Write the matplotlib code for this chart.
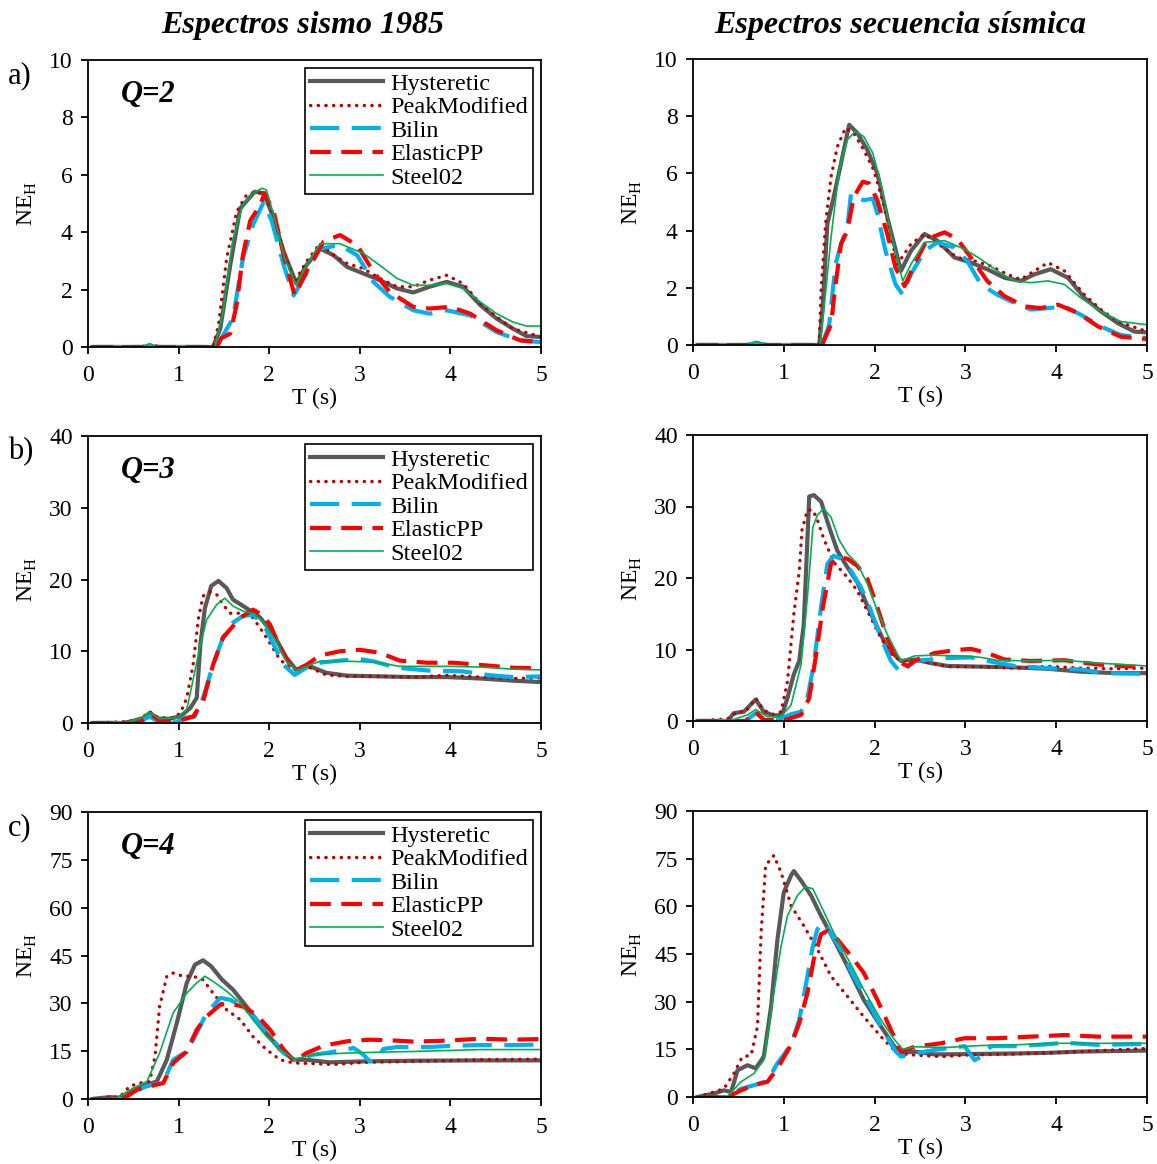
import matplotlib
matplotlib.use('Agg')
import matplotlib.pyplot as plt

plt.rcParams['font.family'] = 'Liberation Serif'
plt.rcParams['mathtext.fontset'] = 'custom'
plt.rcParams['mathtext.rm'] = 'Liberation Serif'

# %% data (T in s, NE_H)
# Q=2, sismo 1985
q2a_hys_t = [0.05, 1.38, 1.46, 1.57, 1.68, 1.84, 1.94, 2.05, 2.16, 2.30, 2.41, 2.56, 2.71, 2.86, 3.04, 3.22, 3.41, 3.59, 3.77, 3.96, 4.14, 4.33, 4.51, 4.69, 4.84, 5.0]
q2a_hys = [0, 0, 0.64, 2.85, 4.83, 5.41, 5.36, 4.48, 3.32, 2.21, 2.85, 3.43, 3.2, 2.79, 2.56, 2.33, 2.04, 1.90, 2.10, 2.27, 2.10, 1.46, 0.99, 0.64, 0.38, 0.35]
q2a_pm_t = [0.05, 1.38, 1.44, 1.53, 1.64, 1.75, 1.86, 1.95, 2.05, 2.16, 2.28, 2.41, 2.56, 2.71, 2.86, 3.04, 3.22, 3.41, 3.59, 3.77, 3.96, 4.14, 4.33, 4.51, 4.69, 5.0]
q2a_pm = [0, 0, 0.76, 3.08, 4.71, 5.3, 5.41, 5.3, 4.6, 3.32, 2.27, 2.97, 3.6, 3.2, 2.91, 2.73, 2.39, 2.1, 2.1, 2.33, 2.5, 2.21, 1.51, 1.05, 0.64, 0.35]
q2a_bil_t = [0.05, 0.6, 0.68, 0.76, 1.42, 1.47, 1.60, 1.71, 1.82, 1.94, 2.03, 2.16, 2.27, 2.38, 2.56, 2.78, 2.97, 3.15, 3.33, 3.59, 3.77, 3.96, 4.22, 4.51, 4.77, 5.0]
q2a_bil = [0, 0, 0.05, 0, 0, 0.3, 1.0, 3.1, 4.25, 5.06, 4.37, 2.85, 1.8, 2.39, 3.43, 3.55, 3.2, 2.27, 1.75, 1.28, 1.16, 1.28, 1.1, 0.52, 0.23, 0.17]
q2a_epp_t = [0.05, 0.6, 0.69, 0.78, 1.42, 1.47, 1.57, 1.64, 1.71, 1.79, 1.90, 1.95, 2.05, 2.16, 2.28, 2.41, 2.60, 2.78, 2.97, 3.15, 3.33, 3.59, 3.77, 4.0, 4.22, 4.51, 4.77, 5.0]
q2a_epp = [0, 0, 0.06, 0, 0, 0.3, 0.47, 1.46, 3.2, 4.4, 4.95, 5.36, 4.71, 3.2, 1.8, 2.62, 3.67, 3.9, 3.55, 2.62, 1.92, 1.4, 1.34, 1.4, 1.16, 0.58, 0.23, 0.17]
q2a_stl_t = [0.05, 0.6, 0.68, 0.76, 1.40, 1.49, 1.60, 1.71, 1.82, 1.92, 1.97, 2.06, 2.17, 2.30, 2.41, 2.56, 2.78, 3.04, 3.22, 3.41, 3.59, 3.77, 3.96, 4.14, 4.33, 4.51, 4.69, 4.84, 5.0]
q2a_stl = [0, 0, 0.12, 0, 0, 1.22, 3.78, 4.95, 5.36, 5.53, 5.47, 4.48, 3.08, 2.15, 2.85, 3.6, 3.6, 3.26, 2.85, 2.39, 2.15, 2.15, 2.21, 2.04, 1.57, 1.16, 0.87, 0.73, 0.73]

# Q=2, secuencia sismica
q2s_hys_t = [0.05, 0.6, 0.7, 0.8, 1.39, 1.43, 1.48, 1.55, 1.63, 1.72, 1.81, 1.92, 2.03, 2.14, 2.29, 2.40, 2.55, 2.69, 2.88, 3.06, 3.24, 3.43, 3.61, 3.76, 3.94, 4.13, 4.31, 4.49, 4.68, 4.86, 5.0]
q2s_hys = [0, 0, 0.05, 0, 0, 1.41, 4.24, 5.18, 6.35, 7.7, 7.41, 6.82, 6.0, 4.47, 2.59, 3.29, 3.88, 3.65, 3.06, 2.88, 2.65, 2.35, 2.24, 2.47, 2.65, 2.35, 1.65, 1.18, 0.76, 0.47, 0.44]
q2s_pm_t = [0.05, 1.39, 1.41, 1.46, 1.52, 1.59, 1.68, 1.77, 1.88, 1.99, 2.11, 2.25, 2.40, 2.55, 2.73, 2.91, 3.10, 3.28, 3.46, 3.61, 3.76, 3.91, 4.09, 4.31, 4.49, 4.68, 5.0]
q2s_pm = [0, 0, 1.88, 4.24, 5.88, 6.94, 7.59, 7.41, 6.82, 6.12, 4.82, 2.82, 3.53, 3.88, 3.47, 3.06, 2.94, 2.76, 2.47, 2.29, 2.59, 2.88, 2.59, 1.76, 1.24, 0.82, 0.47]
q2s_bil_t = [0.05, 0.6, 0.70, 0.8, 1.42, 1.50, 1.57, 1.63, 1.70, 1.74, 1.81, 1.88, 1.98, 2.03, 2.12, 2.23, 2.31, 2.40, 2.55, 2.69, 2.88, 3.02, 3.17, 3.35, 3.54, 3.72, 3.91, 4.09, 4.27, 4.49, 4.71, 5.0]
q2s_bil = [0, 0, 0.08, 0, 0, 0.71, 2.82, 3.53, 4.12, 5.29, 5.18, 5.06, 5.12, 4.59, 3.29, 2.12, 1.76, 2.47, 3.29, 3.59, 3.41, 2.94, 2.12, 1.76, 1.47, 1.24, 1.29, 1.35, 1.06, 0.65, 0.35, 0.24]
q2s_epp_t = [0.05, 1.42, 1.52, 1.57, 1.63, 1.70, 1.77, 1.87, 1.94, 2.03, 2.14, 2.23, 2.33, 2.44, 2.58, 2.77, 2.91, 3.06, 3.24, 3.43, 3.65, 3.83, 4.02, 4.24, 4.46, 4.71, 5.0]
q2s_epp = [0, 0, 0.71, 2.12, 3.53, 4.0, 5.18, 5.71, 5.65, 5.06, 3.88, 2.71, 2.06, 2.82, 3.71, 3.94, 3.71, 3.06, 2.24, 1.71, 1.35, 1.29, 1.41, 1.12, 0.65, 0.29, 0.21]
q2s_stl_t = [0.05, 0.6, 0.70, 0.8, 1.40, 1.44, 1.52, 1.61, 1.70, 1.79, 1.88, 1.98, 2.07, 2.18, 2.31, 2.40, 2.55, 2.77, 2.99, 3.17, 3.35, 3.54, 3.72, 3.91, 4.09, 4.27, 4.49, 4.71, 5.0]
q2s_stl = [0, 0, 0.12, 0, 0, 1.18, 3.76, 6.12, 7.18, 7.47, 7.29, 6.71, 5.65, 3.88, 2.24, 2.82, 3.59, 3.65, 3.35, 3.0, 2.59, 2.24, 2.18, 2.24, 2.12, 1.65, 1.18, 0.82, 0.71]

# Q=3, sismo 1985
q3a_hys_t = [0.05, 0.39, 0.5, 0.61, 0.68, 0.78, 0.9, 1.02, 1.13, 1.2, 1.24, 1.29, 1.36, 1.44, 1.53, 1.60, 1.75, 1.90, 2.05, 2.19, 2.30, 2.45, 2.63, 2.86, 3.22, 3.59, 3.96, 4.33, 4.69, 5.0]
q3a_hys = [0, 0, 0.3, 0.7, 1.4, 0.6, 0.6, 0.93, 2.1, 3.5, 10.9, 16.0, 19.1, 19.8, 18.8, 17.2, 16.0, 14.7, 12.3, 9.1, 7.4, 7.9, 7.0, 6.6, 6.5, 6.4, 6.4, 6.2, 5.9, 5.7]
q3a_pm_t = [0.05, 0.43, 0.57, 0.68, 0.78, 0.94, 1.02, 1.09, 1.16, 1.22, 1.27, 1.35, 1.42, 1.49, 1.57, 1.71, 1.82, 1.97, 2.12, 2.27, 2.45, 2.63, 2.86, 3.22, 3.59, 3.96, 4.33, 4.69, 5.0]
q3a_pm = [0, 0.2, 0.45, 1.6, 0.7, 0.7, 1.4, 3.5, 8.1, 14.7, 17.7, 18.3, 17.9, 16.5, 15.3, 15.3, 14.7, 11.9, 8.8, 7.4, 7.7, 6.7, 6.5, 6.5, 6.4, 6.65, 6.4, 6.2, 6.3]
q3a_bil_t = [0.05, 0.55, 0.68, 0.78, 0.98, 1.05, 1.18, 1.27, 1.38, 1.49, 1.60, 1.71, 1.82, 1.94, 2.05, 2.16, 2.28, 2.41, 2.56, 2.78, 3.0, 3.15, 3.41, 3.77, 4.14, 4.44, 4.69, 5.0]
q3a_bil = [0, 0, 0.93, 0.1, 0.1, 0.7, 0.9, 3.5, 8.1, 11.9, 14.0, 14.9, 15.1, 13.7, 10.9, 8.1, 6.7, 7.7, 8.4, 8.7, 8.9, 8.6, 7.7, 7.3, 7.2, 6.65, 6.4, 6.5]
q3a_epp_t = [0.05, 0.55, 0.65, 0.70, 0.79, 1.0, 1.16, 1.27, 1.38, 1.49, 1.60, 1.71, 1.82, 1.92, 2.01, 2.12, 2.27, 2.41, 2.56, 2.78, 3.0, 3.22, 3.44, 3.74, 4.03, 4.33, 4.69, 5.0]
q3a_epp = [0, 0, 0.7, 1.2, 0.3, 0.3, 0.9, 3.0, 8.1, 11.9, 13.5, 14.9, 15.8, 15.1, 13.7, 10.5, 7.2, 8.1, 9.4, 10.0, 10.2, 9.8, 8.7, 8.4, 8.4, 8.1, 7.7, 7.6]
q3a_stl_t = [0.05, 0.43, 0.57, 0.68, 0.79, 0.98, 1.09, 1.18, 1.24, 1.31, 1.42, 1.51, 1.60, 1.71, 1.82, 1.94, 2.05, 2.19, 2.30, 2.45, 2.56, 2.86, 3.15, 3.44, 3.96, 4.33, 4.69, 5.0]
q3a_stl = [0, 0.1, 0.6, 1.5, 0.6, 0.7, 1.9, 7.2, 10.9, 14.4, 16.5, 17.4, 16.3, 15.6, 15.3, 14.0, 11.9, 8.6, 7.3, 8.1, 8.6, 8.6, 8.5, 7.9, 7.9, 7.8, 7.5, 7.4]

# Q=3, secuencia sismica
q3s_hys_t = [0.05, 0.38, 0.45, 0.56, 0.69, 0.78, 0.89, 0.98, 1.04, 1.11, 1.17, 1.22, 1.28, 1.33, 1.41, 1.50, 1.59, 1.70, 1.81, 1.92, 2.03, 2.14, 2.29, 2.44, 2.62, 2.80, 3.17, 3.54, 3.91, 4.27, 4.64, 5.0]
q3s_hys = [0, 0, 1.1, 1.3, 3.0, 1.3, 0.75, 0.85, 3.2, 6.5, 8.4, 13.5, 31.4, 31.6, 30.7, 27.1, 23.8, 21.5, 19.4, 16.1, 13.1, 10.2, 8.4, 8.6, 8.1, 7.7, 7.6, 7.5, 7.3, 6.9, 6.7, 6.7]
q3s_pm_t = [0.05, 0.38, 0.49, 0.58, 0.69, 0.78, 0.89, 0.97, 1.04, 1.11, 1.17, 1.20, 1.26, 1.32, 1.37, 1.44, 1.55, 1.70, 1.81, 1.92, 2.07, 2.22, 2.36, 2.51, 2.80, 3.17, 3.54, 3.91, 4.27, 4.64, 5.0]
q3s_pm = [0, 0.3, 1.3, 1.3, 3.2, 1.5, 0.9, 1.3, 5.5, 14.9, 21.0, 26.7, 29.5, 29.5, 28.1, 25.5, 22.2, 20.1, 18.2, 15.4, 11.6, 8.8, 8.4, 8.4, 7.6, 7.6, 7.4, 7.65, 7.4, 7.3, 7.4]
q3s_bil_t = [0.05, 0.58, 0.69, 0.80, 0.96, 1.08, 1.19, 1.26, 1.33, 1.41, 1.48, 1.55, 1.63, 1.74, 1.85, 1.96, 2.07, 2.18, 2.29, 2.44, 2.62, 2.80, 3.06, 3.24, 3.54, 3.91, 4.27, 4.53, 5.0]
q3s_bil = [0, 0, 1.1, 0.1, 0.3, 0.95, 1.3, 3.2, 7.9, 15.9, 22.0, 23.1, 22.7, 21.0, 18.7, 15.4, 11.6, 8.4, 6.7, 8.4, 8.6, 8.8, 8.9, 8.4, 7.7, 7.4, 7.2, 6.7, 6.6]
q3s_epp_t = [0.05, 0.58, 0.69, 0.78, 1.0, 1.19, 1.28, 1.35, 1.43, 1.52, 1.61, 1.70, 1.81, 1.92, 2.03, 2.14, 2.25, 2.36, 2.47, 2.66, 2.88, 3.06, 3.24, 3.43, 3.72, 4.09, 4.46, 5.0]
q3s_epp = [0, 0, 1.3, 0.15, 0.1, 0.85, 3.2, 8.8, 15.9, 22.0, 22.9, 22.7, 21.7, 19.9, 15.9, 11.6, 8.4, 7.7, 8.6, 9.5, 9.9, 10.1, 9.5, 8.6, 8.4, 8.5, 7.9, 7.5]
q3s_stl_t = [0.05, 0.42, 0.60, 0.69, 0.82, 0.97, 1.08, 1.19, 1.26, 1.32, 1.37, 1.44, 1.52, 1.61, 1.70, 1.81, 1.92, 2.03, 2.14, 2.29, 2.44, 2.62, 2.99, 3.17, 3.35, 3.72, 4.09, 4.46, 5.0]
q3s_stl = [0, 0.1, 0.85, 1.6, 0.6, 0.6, 2.25, 7.9, 17.3, 27.1, 28.8, 29.7, 28.5, 25.3, 23.4, 22.0, 19.2, 15.4, 12.1, 8.4, 9.1, 9.2, 9.1, 8.9, 8.5, 8.4, 8.5, 8.1, 7.7]

# Q=4, sismo 1985
q4a_hys_t = [0.05, 0.24, 0.39, 0.5, 0.65, 0.76, 0.87, 0.98, 1.09, 1.18, 1.27, 1.36, 1.48, 1.60, 1.75, 1.94, 2.12, 2.27, 2.41, 2.67, 3.04, 3.59, 4.33, 5.0]
q4a_hys = [0, 0.6, 0.3, 2.9, 4.5, 5.5, 12.3, 23.8, 36.4, 42.1, 43.5, 41.6, 37.4, 34.3, 29.0, 21.7, 15.5, 12.3, 12.3, 11.5, 11.8, 12.0, 12.1, 12.1]
q4a_pm_t = [0.05, 0.24, 0.35, 0.46, 0.57, 0.68, 0.74, 0.79, 0.87, 0.94, 1.05, 1.16, 1.27, 1.38, 1.53, 1.68, 1.82, 1.97, 2.12, 2.27, 2.49, 2.71, 3.04, 3.59, 4.33, 5.0]
q4a_pm = [0, 0.6, 0.6, 4.0, 5.0, 5.5, 13.4, 29.0, 38.5, 39.5, 38.5, 38.5, 37.4, 33.2, 28.0, 24.9, 19.6, 15.5, 12.3, 11.3, 11.1, 10.8, 11.5, 11.8, 12.3, 12.5]
q4a_bil_t = [0.05, 0.39, 0.5, 0.65, 0.83, 0.94, 1.09, 1.2, 1.31, 1.46, 1.57, 1.71, 1.86, 2.01, 2.16, 2.28, 2.49, 2.67, 2.93, 3.04, 3.11, 3.20, 3.26, 3.41, 3.77, 4.03, 4.33, 4.69, 5.0]
q4a_bil = [0, 0, 2.4, 4.0, 5.2, 12.3, 14.9, 20.7, 27.0, 31.7, 31.1, 29.0, 24.9, 19.6, 14.4, 12.3, 13.9, 14.6, 16.0, 13.9, 11.8, 12.9, 15.7, 16.3, 16.3, 16.7, 16.9, 16.9, 17.1]
q4a_epp_t = [0.05, 0.39, 0.54, 0.68, 0.83, 0.94, 1.09, 1.2, 1.31, 1.46, 1.57, 1.71, 1.86, 2.01, 2.16, 2.28, 2.41, 2.60, 2.86, 3.11, 3.41, 3.59, 3.96, 4.33, 4.69, 5.0]
q4a_epp = [0, 0, 2.9, 4.0, 5.0, 11.3, 14.9, 21.7, 25.9, 29.6, 29.9, 29.0, 26.4, 21.7, 15.5, 11.8, 14.4, 16.7, 18.1, 18.6, 18.3, 18.0, 18.3, 18.9, 18.6, 18.8]
q4a_stl_t = [0.05, 0.31, 0.5, 0.65, 0.79, 0.94, 1.09, 1.2, 1.29, 1.38, 1.53, 1.68, 1.82, 1.97, 2.12, 2.28, 2.49, 2.86, 3.22, 3.59, 4.33, 5.0]
q4a_stl = [0, 0.3, 3.4, 5.5, 14.4, 27.0, 33.2, 36.4, 38.5, 36.9, 33.8, 30.1, 24.9, 19.6, 15.5, 12.5, 13.9, 14.4, 14.7, 14.9, 15.5, 15.5]

# Q=4, secuencia sismica
q4s_hys_t = [0.05, 0.23, 0.34, 0.42, 0.49, 0.60, 0.69, 0.78, 0.86, 0.93, 1.0, 1.08, 1.11, 1.19, 1.30, 1.41, 1.55, 1.70, 1.88, 2.07, 2.22, 2.31, 2.44, 2.66, 2.99, 3.54, 3.91, 4.27, 5.0]
q4s_hys = [0, 1.1, 2.1, 1.6, 8.4, 10.0, 9.0, 12.7, 28.5, 49.6, 64.4, 69.7, 71.1, 68.1, 63.4, 57.0, 49.6, 41.2, 30.6, 22.2, 15.8, 13.9, 14.3, 13.4, 13.5, 13.7, 13.9, 14.3, 14.6]
q4s_pm_t = [0.05, 0.23, 0.34, 0.45, 0.54, 0.64, 0.71, 0.75, 0.80, 0.89, 0.97, 1.08, 1.22, 1.37, 1.52, 1.70, 1.88, 2.07, 2.25, 2.44, 2.73, 2.99, 3.54, 4.27, 5.0]
q4s_pm = [0, 1.6, 2.6, 7.4, 12.5, 13.2, 22.2, 51.7, 72.9, 76.0, 70.7, 60.2, 53.9, 46.5, 38.0, 31.7, 25.3, 19.0, 13.7, 13.2, 12.7, 13.2, 13.5, 14.3, 15.3]
q4s_bil_t = [0.05, 0.38, 0.53, 0.67, 0.82, 0.93, 1.08, 1.17, 1.24, 1.32, 1.37, 1.43, 1.50, 1.63, 1.77, 1.92, 2.07, 2.22, 2.29, 2.44, 2.66, 2.99, 3.10, 3.21, 3.28, 3.54, 3.91, 4.09, 4.46, 5.0]
q4s_bil = [0, 0, 2.6, 3.7, 5.1, 10.6, 16.4, 24.3, 34.8, 47.5, 52.8, 54.9, 52.3, 46.5, 38.0, 30.6, 22.2, 14.8, 12.7, 13.7, 14.8, 16.0, 11.6, 13.2, 16.0, 16.0, 16.6, 17.1, 16.4, 16.7]
q4s_epp_t = [0.05, 0.38, 0.53, 0.67, 0.82, 0.93, 1.08, 1.17, 1.26, 1.33, 1.41, 1.48, 1.59, 1.74, 1.88, 2.03, 2.18, 2.29, 2.44, 2.73, 2.99, 3.35, 3.72, 4.09, 4.46, 5.0]
q4s_epp = [0, 0, 2.1, 3.7, 4.8, 9.0, 16.4, 23.2, 32.7, 43.3, 51.2, 52.3, 49.6, 44.4, 39.1, 30.6, 21.1, 14.3, 15.8, 16.9, 18.5, 18.5, 19.0, 19.5, 19.0, 19.0]
q4s_stl_t = [0.05, 0.38, 0.53, 0.67, 0.78, 0.89, 0.97, 1.04, 1.15, 1.24, 1.32, 1.41, 1.55, 1.70, 1.88, 2.07, 2.22, 2.31, 2.44, 2.80, 3.17, 3.54, 3.91, 4.27, 5.0]
q4s_stl = [0, 0.2, 4.8, 7.4, 11.6, 32.7, 47.5, 57.0, 63.4, 66.2, 65.5, 60.2, 51.7, 43.8, 33.8, 24.3, 18.0, 15.0, 15.8, 15.6, 16.2, 16.4, 16.9, 16.9, 16.9]

labels = ['Hysteretic', 'PeakModified', 'Bilin', 'ElasticPP', 'Steel02']
q_text = ['Q=2', 'Q=3', 'Q=4']
row_tags = ['a)', 'b)', 'c)']
y_max = [10, 40, 90]
y_step = [2, 10, 15]
titles = ['Espectros sismo 1985', 'Espectros secuencia sísmica']

styles = [
    dict(color='#595959', lw=3.0, ls='-'),
    dict(color='#C00000', lw=2.4, ls=(0, (0.1, 2.2)), dash_capstyle='round'),
    dict(color='#00B0F0', lw=3.0, ls=(0, (7, 3))),
    dict(color='#FF0000', lw=3.0, ls=(0, (5, 2.5))),
    dict(color='#00B050', lw=1.2, ls='-'),
]

panels = [
    [(q2a_hys_t, q2a_hys), (q2a_pm_t, q2a_pm), (q2a_bil_t, q2a_bil), (q2a_epp_t, q2a_epp), (q2a_stl_t, q2a_stl)],
    [(q2s_hys_t, q2s_hys), (q2s_pm_t, q2s_pm), (q2s_bil_t, q2s_bil), (q2s_epp_t, q2s_epp), (q2s_stl_t, q2s_stl)],
    [(q3a_hys_t, q3a_hys), (q3a_pm_t, q3a_pm), (q3a_bil_t, q3a_bil), (q3a_epp_t, q3a_epp), (q3a_stl_t, q3a_stl)],
    [(q3s_hys_t, q3s_hys), (q3s_pm_t, q3s_pm), (q3s_bil_t, q3s_bil), (q3s_epp_t, q3s_epp), (q3s_stl_t, q3s_stl)],
    [(q4a_hys_t, q4a_hys), (q4a_pm_t, q4a_pm), (q4a_bil_t, q4a_bil), (q4a_epp_t, q4a_epp), (q4a_stl_t, q4a_stl)],
    [(q4s_hys_t, q4s_hys), (q4s_pm_t, q4s_pm), (q4s_bil_t, q4s_bil), (q4s_epp_t, q4s_epp), (q4s_stl_t, q4s_stl)],
]

# %% figure
W, H = 1157, 1164
fig = plt.figure(figsize=(W / 100, H / 100), dpi=100)

col_x = [(88, 453), (693, 454)]
row_y = [[(60, 287), (436, 287), (812, 287)], [(59, 286), (435, 286), (811, 286)]]

for r in range(3):
    for c in range(2):
        x0, w = col_x[c]
        y0, h = row_y[c][r]
        ax = fig.add_axes([x0 / W, 1 - (y0 + h) / H, w / W, h / H])
        for (t, v), st, lab in zip(panels[2 * r + c], styles, labels):
            ax.plot(t, v, label=lab, solid_joinstyle='round', **st)
        ax.set_xlim(0, 5)
        ax.set_ylim(0, y_max[r])
        ax.set_xticks(range(6))
        ax.set_yticks(range(0, y_max[r] + 1, y_step[r]))
        ax.tick_params(direction='out', length=5, width=1.3, labelsize=17)
        ax.tick_params(axis='x', pad=8)
        ax.tick_params(axis='y', pad=6)
        for sp in ax.spines.values():
            sp.set_linewidth(1.3)
        ax.set_xlabel('T (s)', fontsize=17, labelpad=1)
        ax.set_ylabel(r'NE$_\mathregular{H}$', fontsize=17, labelpad=7)
        if c == 0:
            ax.text(0.073, 0.88, q_text[r], transform=ax.transAxes, fontsize=22,
                    fontweight='bold', fontstyle='italic', va='center')
            leg = ax.legend(loc='upper right', bbox_to_anchor=(0.982, 0.972),
                            borderaxespad=0, fontsize=17.5, handlelength=3.0,
                            handletextpad=0.3, labelspacing=0.06, borderpad=0.2,
                            fancybox=False, framealpha=1, edgecolor='black')
            leg.get_frame().set_linewidth(1.2)
            fig.text(8 / W, 1 - (y0 + 16) / H, row_tags[r], fontsize=22, va='center')

fig.text(303 / W, 1 - 25 / H, titles[0], fontsize=23, fontweight='bold',
         fontstyle='italic', ha='center', va='center')
fig.text(900 / W, 1 - 25 / H, titles[1], fontsize=23, fontweight='bold',
         fontstyle='italic', ha='center', va='center')

fig.savefig('out.png', dpi=100)
